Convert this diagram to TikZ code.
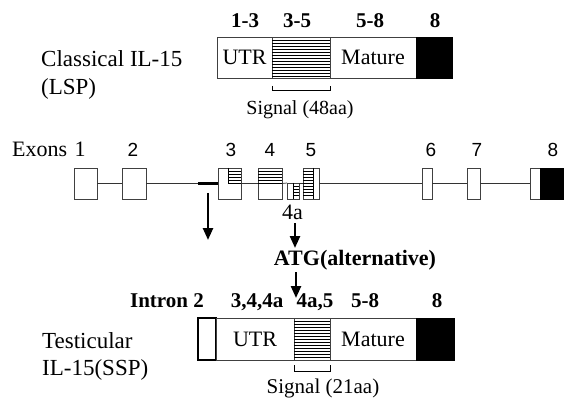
\documentclass[tikz,border=0pt]{standalone}
\usepackage{fontspec}
\setmainfont{Liberation Serif}
\newfontfamily\numfont{Liberation Sans}
\usetikzlibrary{arrows.meta}
\begin{document}
\begin{tikzpicture}[x=1pt,y=-1pt,
  boxline/.style={draw=black!75, line width=0.8pt},
  seg/.style={boxline, inner sep=0pt, outer sep=0pt, minimum height=41pt, anchor=north west, font=\fontsize{22}{26}\selectfont},
  segb/.style={seg, minimum height=42pt},
  exon/.style={boxline, inner sep=0pt, outer sep=0pt, minimum height=31pt},
  hatch/.style={draw=black, line width=0.6pt},
  intron/.style={draw=black!80, line width=0.7pt},
  bracket/.style={draw=black, line width=1pt},
  arr/.style={draw=black, line width=2.4pt, -{Triangle[length=12pt,width=10pt]}},
  big/.style={inner sep=0pt, anchor=base west, font=\fontsize{23}{27}\selectfont},
  txt/.style={inner sep=0pt, anchor=base, font=\fontsize{22}{26}\selectfont},
  sig/.style={inner sep=0pt, anchor=base, font=\fontsize{20}{24}\selectfont},
  blbl/.style={inner sep=0pt, anchor=base, font=\fontsize{21}{25}\selectfont\bfseries},
  num/.style={inner sep=0pt, anchor=base, font=\fontsize{19}{23}\selectfont\numfont}
]
\useasboundingbox (0,0) rectangle (564,403);

% ---------- classical IL-15 ----------
\node[big] (cl1) at (41,67) {Classical IL-15};
\node[big] (cl2) at (41,95) {(LSP)};
\node[blbl] (t13) at (245,28) {1-3};
\node[blbl] (t35) at (297,28) {3-5};
\node[blbl] (t58) at (370,28) {5-8};
\node[blbl] (t8) at (435,28) {8};
\node[seg, minimum width=55pt] (tutr) at (217,37) {UTR};
\node[seg, minimum width=58pt] (tsig) at (272,37) {};
\node[seg, minimum width=86pt] (tmat) at (330,37) {Mature};
\node[seg, fill=black, draw=black, minimum width=36pt] (tend) at (416,37) {};
\foreach \yy in {40,43,...,76} \draw[hatch] (272,\yy) -- (330,\yy);
\draw[bracket] ([yshift=-8pt]tsig.south west) -- ([yshift=-13pt]tsig.south west)
  -- ([yshift=-13pt]tsig.south east) -- ([yshift=-8pt]tsig.south east);
\node[sig] (tsigl) at (300,115) {Signal (48aa)};

% ---------- exons ----------
\node[txt, anchor=base west] (exl) at (12,157) {Exons};
\node[txt] (n1) at (80,157) {1};
\node[num] (n2) at (133,157) {2};
\node[num] (n3) at (231,157) {3};
\node[num] (n4) at (270,157) {4};
\node[num] (n5) at (311,157) {5};
\node[num] (n6) at (431,157) {6};
\node[num] (n7) at (477,157) {7};
\node[num] (n8) at (553,157) {8};

\node[exon, minimum width=23pt] (e1) at (85.5,183.5) {};
\node[exon, minimum width=24pt] (e2) at (134,183.5) {};
\node[exon, minimum width=23pt] (e3) at (229.5,183.5) {};
\node[exon, minimum width=24pt] (e4) at (270,183.5) {};
\node[exon, minimum width=12pt, minimum height=16pt] (e4a) at (293,191) {};
\node[exon, minimum width=16pt] (e5) at (311,183.5) {};
\node[exon, minimum width=10pt] (e6) at (427,183.5) {};
\node[exon, minimum width=13pt] (e7) at (473.5,183.5) {};
\node[exon, minimum width=10pt] (e8w) at (535,183.5) {};
\node[exon, minimum width=24pt, fill=black, draw=black] (e8b) at (552,183.5) {};

% hatching inside exons
\draw[hatch] (228,168) -- (228,183) -- (241,183);
\foreach \yy in {171,174,...,180} \draw[hatch] (228,\yy) -- (241,\yy);
\draw[hatch] (258,183) -- (282,183);
\foreach \yy in {171,174,...,180} \draw[hatch] (258,\yy) -- (282,\yy);
\draw[hatch] (293,183) -- (293,199);
\foreach \yy in {186,189,...,196} \draw[hatch] (293,\yy) -- (299,\yy);
\draw[hatch] (313,168) -- (313,199);
\foreach \yy in {171,174,...,196} \draw[hatch] (303,\yy) -- (313,\yy);

% intron line
\coordinate (ts) at (198,183.5);
\draw[intron] (e1.east) -- (e2.west);
\draw[intron] (e2.east) -- (ts);
\draw[draw=black, line width=3pt] (ts) -- (e3.west);
\draw[intron] (e3.east) -- (e4.west);
\draw[intron] (e4.east) -- (e4a.north west);
\draw[intron] (e4a.north east) -- (e4a.north east -| e5.west);
\draw[intron] (e5.east) -- (e6.west);
\draw[intron] (e6.east) -- (e7.west);
\draw[intron] (e7.east) -- (e8w.west);

\node[txt] (l4a) at (292.5,219) {4a};

% arrows
\coordinate (a1s) at (208,193);
\coordinate (a1e) at (208,240);
\draw[arr] (a1s) -- (a1e);
\coordinate (a2s) at (295,223);
\coordinate (a2e) at (295,248);
\draw[arr] (a2s) -- (a2e);
\node[inner sep=0pt, anchor=base, font=\fontsize{22}{26}\selectfont\bfseries] (atg) at (355,265) {ATG(alternative)};
\coordinate (a3s) at (296,272);
\coordinate (a3e) at (296,298);
\draw[arr] (a3s) -- (a3e);

% ---------- testicular IL-15 ----------
\node[big] (te1) at (42,348) {Testicular};
\node[big] (te2) at (42,375) {IL-15(SSP)};
\node[blbl] (bi2) at (167,307) {Intron 2};
\node[blbl] (b344) at (257,307) {3,4,4a};
\node[blbl] (b4a5) at (315,307) {4a,5};
\node[blbl] (b58) at (365,307) {5-8};
\node[blbl] (b8) at (437,307) {8};
\node[segb, draw=black, line width=1.6pt, minimum width=18pt] (bint) at (198,318) {};
\node[segb, minimum width=78pt] (butr) at (216,318) {UTR};
\node[segb, minimum width=36pt] (bsig) at (294,318) {};
\node[segb, minimum width=86pt] (bmat) at (330,318) {Mature};
\node[segb, fill=black, draw=black, minimum width=38pt] (bend) at (416,318) {};
\foreach \yy in {321,324,...,357} \draw[hatch] (294,\yy) -- (330,\yy);
\draw[bracket] ([yshift=-5pt]bsig.south west) -- ([yshift=-11pt]bsig.south west)
  -- ([yshift=-11pt]bsig.south east) -- ([yshift=-5pt]bsig.south east);
\node[sig, font=\fontsize{21}{25}\selectfont] (bsigl) at (323,393) {Signal (21aa)};
\end{tikzpicture}
\end{document}
